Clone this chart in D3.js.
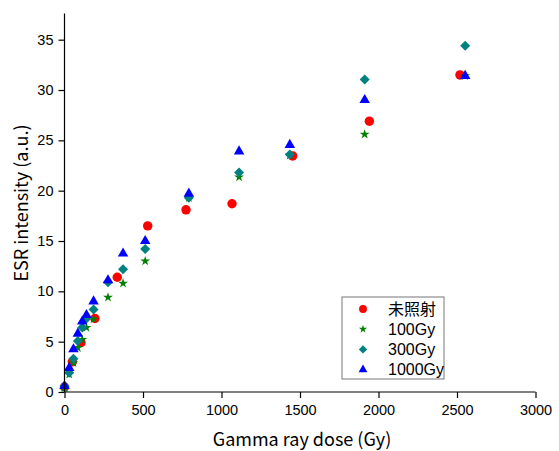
<!DOCTYPE html>
<html>
<head>
<meta charset="utf-8">
<script src="https://cdn.jsdelivr.net/npm/d3@7"></script>
<style>
  body { margin: 0; background: #fff; }
  svg text { font-family: "Liberation Sans", Arial, sans-serif; fill: #000; }
  .axis-title { font-family: "Noto Sans CJK JP", sans-serif; font-size: 18px; }
  .legend-label { font-family: "Liberation Sans", "Noto Sans CJK JP", sans-serif; font-size: 16px; }
</style>
</head>
<body>
<svg id="chart" width="559" height="451"></svg>
<script>
// ── Data ──
const doses = [0, 30, 57, 85, 113, 140, 185, 277, 373, 514, 792, 1112, 1435, 1912, 2552];
const unirradiatedDoses = [0, 50, 105, 194, 336, 530, 774, 1067, 1453, 1942, 2519];
const unirradiated = [0.5, 3.0, 4.9, 7.3, 11.4, 16.5, 18.1, 18.7, 23.45, 26.9, 31.5];
const gy100 = [0.4, 1.75, 2.9, 4.4, 5.2, 6.4, 7.25, 9.4, 10.8, 13.0, 19.3, 21.35, 23.5, 25.6, 31.4];
const gy300 = [0.6, 1.9, 3.3, 5.07, 6.4, 7.3, 8.2, 10.9, 12.2, 14.2, 19.3, 21.8, 23.6, 31.05, 34.4];
const gy1000 = [0.6, 2.4, 4.25, 5.8, 7.0, 7.65, 9.0, 11.1, 13.75, 15.0, 19.7, 23.9, 24.55, 29.0, 31.4];

const xTicks = [0, 500, 1000, 1500, 2000, 2500, 3000];
const yTicks = [0, 5, 10, 15, 20, 25, 30, 35];

const series = [
  { name: "未照射", x: unirradiatedDoses, y: unirradiated, color: "#ff0000", symbol: d3.symbolCircle, size: 70, rot: 0 },
  { name: "100Gy", x: doses, y: gy100, color: "#008000", symbol: d3.symbolStar, size: 30, rot: 0 },
  { name: "300Gy", x: doses, y: gy300, color: "#008080", symbol: d3.symbolSquare, size: 50, rot: 45 },
  { name: "1000Gy", x: doses, y: gy1000, color: "#0000ff", symbol: d3.symbolTriangle, size: 48, rot: 0 }
];

// ── Scales ──
const svg = d3.select("#chart");
const x = d3.scaleLinear().domain([0, 3000]).range([64.5, 535.5]);
const y = d3.scaleLinear().domain([0, 37.6]).range([392, 13.5]);

// ── Points (under the axes) ──
const pts = svg.append("g");
series.forEach(s => {
  pts.selectAll(null)
    .data(s.y.map((v, i) => [s.x[i], v]))
    .join("path")
    .attr("d", d3.symbol().type(s.symbol).size(s.size))
    .attr("transform", d => `translate(${x(d[0])},${y(d[1])}) rotate(${s.rot})`)
    .attr("fill", s.color);
});

// ── Axes ──
const xAxis = svg.append("g").attr("transform", `translate(0,${y(0)})`);
xAxis.call(d3.axisBottom(x).tickValues(d3.range(0, 3001, 250)).tickSize(4).tickFormat(""));
xAxis.call(d3.axisBottom(x).tickValues(xTicks).tickSize(6).tickPadding(7).tickFormat(d => d));
xAxis.selectAll("path.domain").attr("d", `M${x(0)},0H${x(3000)}`);

const yAxis = svg.append("g").attr("transform", `translate(${x(0)},0)`);
yAxis.call(d3.axisLeft(y).tickValues(d3.range(0, 37.6, 2.5)).tickSize(4).tickFormat(""));
yAxis.call(d3.axisLeft(y).tickValues(yTicks).tickSize(6).tickPadding(5).tickFormat(d => d));
yAxis.selectAll("path.domain").attr("d", `M0,${y(0)}V${y(37.6)}`);

svg.selectAll(".tick text").attr("font-size", 14.5).attr("font-family", "Liberation Sans, Arial, sans-serif");
svg.selectAll(".domain, .tick line").attr("stroke", "#000").attr("stroke-width", 1.2);

// ── Axis titles ──
svg.append("text")
  .attr("class", "axis-title")
  .attr("x", 302).attr("y", 446)
  .attr("text-anchor", "middle")
  .text("Gamma ray dose (Gy)");

svg.append("text")
  .attr("class", "axis-title")
  .attr("transform", "translate(28,203) rotate(-90)")
  .attr("text-anchor", "middle")
  .text("ESR intensity (a.u.)");

// ── Legend ──
const legend = svg.append("g").attr("transform", "translate(342,297)");
legend.append("rect")
  .attr("width", 102).attr("height", 82)
  .attr("fill", "#fff").attr("stroke", "#777").attr("stroke-width", 1);

const rows = legend.selectAll(".row")
  .data(series)
  .join("g")
  .attr("transform", (d, i) => `translate(0,${12 + i * 20.2})`);

rows.append("path")
  .attr("d", d => d3.symbol().type(d.symbol).size(d.size * 0.7)())
  .attr("transform", d => `translate(21,0) rotate(${d.rot})`)
  .attr("fill", d => d.color);

rows.append("text")
  .attr("class", "legend-label")
  .attr("x", 46).attr("dy", "0.36em")
  .text(d => d.name);
</script>
</body>
</html>
